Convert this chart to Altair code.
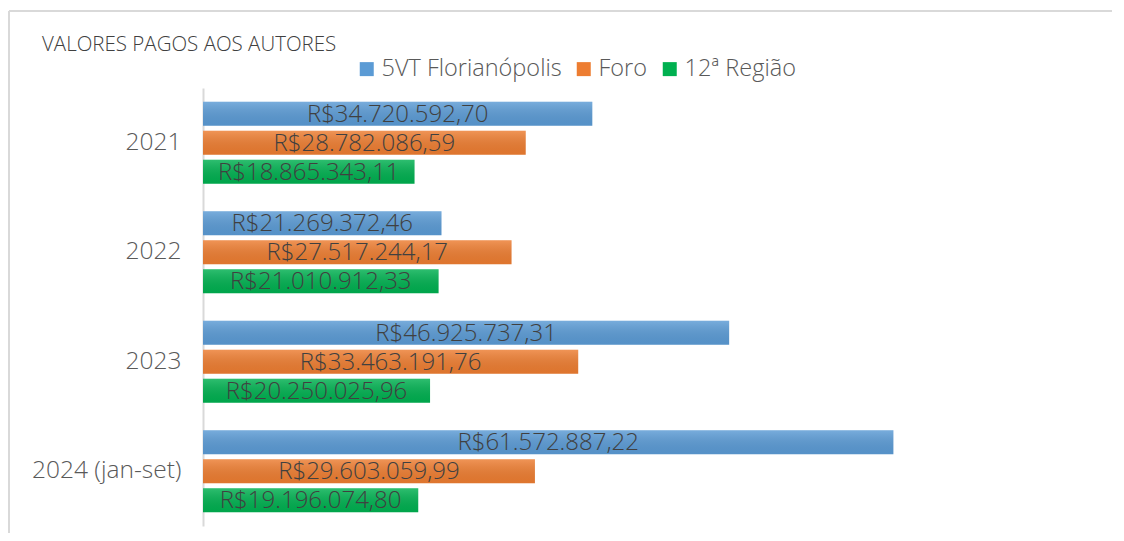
import altair as alt
import pandas as pd

years = ["2021", "2022", "2023", "2024 (jan-set)"]
series = ["5VT Florianópolis", "Foro", "12ª Região"]
vt_floripa = [34720592.70, 21269372.46, 46925737.31, 61572887.22]
foro = [28782086.59, 27517244.17, 33463191.76, 29603059.99]
regiao12 = [18865343.11, 21010912.33, 20250025.96, 19196074.80]
colors = ["#5b9bd5", "#ed7d31", "#00b050"]

rows = []
for s, vals in zip(series, [vt_floripa, foro, regiao12]):
    for i, (y, v) in enumerate(zip(years, vals)):
        lbl = "R$" + f"{v:,.2f}".replace(",", "X").replace(".", ",").replace("X", ".")
        rows.append({"ano": y, "serie": s, "valor": v, "half": v / 2, "rotulo": lbl})
df = pd.DataFrame(rows)

FONT = "Open Sans"

y_enc = alt.Y("ano:N", sort=years,
              scale=alt.Scale(paddingInner=0.25, paddingOuter=0.125),
              axis=alt.Axis(title=None, ticks=False, labelPadding=22, labelFontSize=24.5,
                            labelColor="#595959", labelFont=FONT, labelFontWeight=300,
                            domainColor="#d9d9d9", domainWidth=2, grid=False, labelLimit=0))
yoff = alt.YOffset("serie:N", sort=series, scale=alt.Scale(paddingInner=0.172, paddingOuter=0))
x_scale = alt.Scale(domain=[0, 80000000])

base = alt.Chart(df)

bars = base.mark_bar().encode(
    y=y_enc, yOffset=yoff,
    x=alt.X("valor:Q", scale=x_scale, axis=None),
    color=alt.Color("serie:N", sort=series,
                    scale=alt.Scale(domain=series, range=colors),
                    legend=alt.Legend(title=None, orient="none", direction="horizontal",
                                      legendX=152, legendY=-31, symbolType="square",
                                      symbolSize=196, symbolStrokeWidth=0, labelFontSize=23.5,
                                      labelColor="#595959", labelFont=FONT, labelFontWeight=300,
                                      columnPadding=10, labelOffset=3, labelLimit=0)),
)

shine = base.mark_bar(color=alt.Gradient(
    gradient="linear", x1=0, x2=0, y1=0, y2=1,
    stops=[alt.GradientStop(color="rgba(255,255,255,0.18)", offset=0),
           alt.GradientStop(color="rgba(0,0,0,0.06)", offset=1)])).encode(
    y=alt.Y("ano:N", sort=years), yOffset=yoff,
    x=alt.X("valor:Q", scale=x_scale),
)

labels = base.mark_text(fontSize=24, color="#404040", font=FONT, fontWeight=300,
                        baseline="middle", dy=1).encode(
    y=alt.Y("ano:N", sort=years), yOffset=yoff,
    x=alt.X("half:Q", scale=x_scale),
    text="rotulo:N",
)

frame_top = alt.Chart(pd.DataFrame({"k": [0]})).mark_rule(color="#d9d9d9", strokeWidth=2).encode(
    x=alt.value(-194), x2=alt.value(930), y=alt.value(-77))
frame_left = alt.Chart(pd.DataFrame({"k": [0]})).mark_rule(color="#d9d9d9", strokeWidth=2).encode(
    x=alt.value(-194), y=alt.value(-77), y2=alt.value(500))

title = alt.Chart(pd.DataFrame({"t": ["VALORES PAGOS AOS AUTORES"]})).mark_text(
    fontSize=20.5, color="#404040", font=FONT, fontWeight=300, align="left", baseline="middle").encode(
    x=alt.value(-161), y=alt.value(-43), text="t:N")

chart = alt.layer(frame_top, frame_left, title, bars, shine, labels).properties(
    width=897, height=438,
    padding={"left": 195, "top": 80, "right": 12, "bottom": 7},
    autosize=alt.AutoSizeParams(type="none"),
).configure_view(stroke=None)

chart.save("out.html", embed_options={"renderer": "svg", "actions": False})
